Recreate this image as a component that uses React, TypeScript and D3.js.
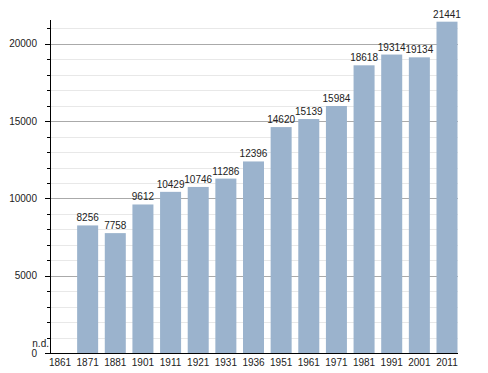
import React, { useEffect } from 'react';
import * as d3 from 'd3';

const years = ['1861', '1871', '1881', '1901', '1911', '1921', '1931', '1936', '1951', '1961', '1971', '1981', '1991', '2001', '2011'];
const population: (number | null)[] = [null, 8256, 7758, 9612, 10429, 10746, 11286, 12396, 14620, 15139, 15984, 18618, 19314, 19134, 21441];
const majorTicks = [0, 5000, 10000, 15000, 20000];

const W = 488;
const H = 373;
const FONT = 'Liberation Sans, Arial, sans-serif';

export default function App() {
  useEffect(() => {
    document.body.style.margin = '0';
  }, []);

  const x = d3.scaleBand<string>().domain(years).range([49.5, 457.5]).paddingInner(0.24).paddingOuter(0);
  const y = d3.scaleLinear().domain([0, 21550]).range([353, 20]);
  const minorTicks = d3.range(1000, 21550, 1000).filter(v => v % 5000 !== 0);

  return (
    <svg width={W} height={H} style={{ display: 'block' }} fontFamily={FONT} fontSize={10}>
      <rect width={W} height={H} fill="#fff" />
      {/* minor grid */}
      {minorTicks.map(v => (
        <line key={'mg' + v} x1={50} x2={458} y1={Math.round(y(v)) + 0.5} y2={Math.round(y(v)) + 0.5} stroke="#e8e8e8" />
      ))}
      {/* major grid */}
      {majorTicks.filter(v => v > 0).map(v => (
        <line key={'g' + v} x1={50} x2={458} y1={Math.round(y(v)) + 0.5} y2={Math.round(y(v)) + 0.5} stroke="#aaaaaa" />
      ))}
      {/* bars */}
      {years.map((yr, i) => {
        const v = population[i];
        if (v == null) return null;
        return <rect key={yr} x={x(yr)} y={y(v)} width={x.bandwidth()} height={y(0) - y(v)} fill="#9bb3cd" />;
      })}
      {/* value labels */}
      {years.map((yr, i) => {
        const v = population[i];
        const cx = (x(yr) ?? 0) + x.bandwidth() / 2;
        if (v == null) {
          return <text key={'l' + yr} x={49} y={346.5} textAnchor="end" fill="#222">n.d.</text>;
        }
        return <text key={'l' + yr} x={cx} y={y(v) - 4} textAnchor="middle" fill="#222">{v}</text>;
      })}
      {/* y axis */}
      <line x1={50.5} x2={50.5} y1={20} y2={353} stroke="#000" />
      {minorTicks.map(v => (
        <line key={'mt' + v} x1={47} x2={50} y1={Math.round(y(v)) + 0.5} y2={Math.round(y(v)) + 0.5} stroke="#000" />
      ))}
      {majorTicks.map(v => (
        <g key={'t' + v}>
          <line x1={45} x2={50} y1={Math.round(y(v)) + 0.5} y2={Math.round(y(v)) + 0.5} stroke="#000" />
          <text x={37} y={y(v) + 3.5} textAnchor="end" fill="#222">{v}</text>
        </g>
      ))}
      {/* x axis */}
      <line x1={50} x2={458} y1={353.5} y2={353.5} stroke="#000" />
      {years.map(yr => (
        <text key={'x' + yr} x={(x(yr) ?? 0) + x.bandwidth() / 2} y={366} textAnchor="middle" fill="#222">{yr}</text>
      ))}
    </svg>
  );
}
